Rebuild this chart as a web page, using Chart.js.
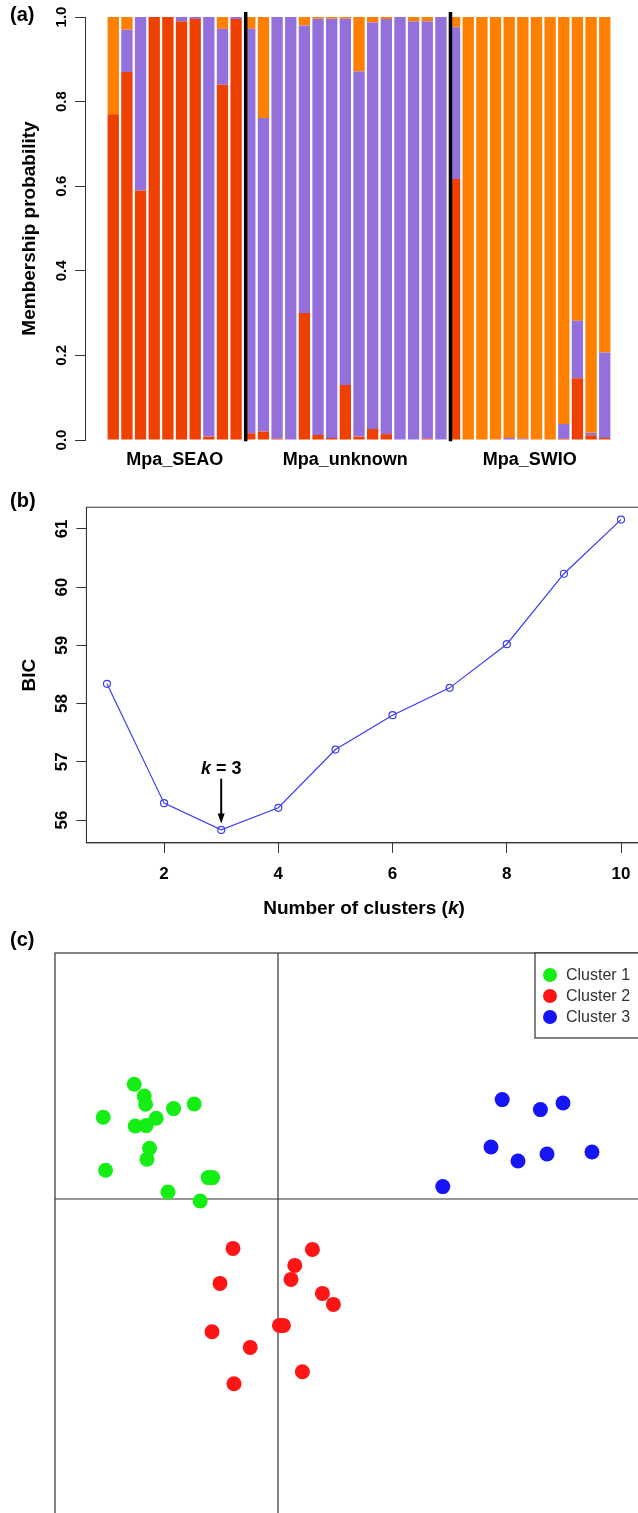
<!DOCTYPE html>
<html><head><meta charset="utf-8">
<script src="https://cdn.jsdelivr.net/npm/chart.js@4.4.0/dist/chart.umd.min.js"></script>
<style>
html,body{margin:0;padding:0;background:#fff;overflow:hidden;width:638px;height:1513px;position:relative;}
canvas{position:absolute;left:0;}
</style></head><body>
<canvas id="ca" width="638" height="490" style="top:0px"></canvas>
<canvas id="cb" width="680" height="450" style="top:480px"></canvas>
<canvas id="cc" width="680" height="610" style="top:930px"></canvas>
<script>
// ---------- Panel (a) data: membership probabilities ----------
const groupNames = ['Mpa_SEAO', 'Mpa_unknown', 'Mpa_SWIO'];
const groupSizes = [10, 15, 12];
const memberRed = [
  0.77, 0.87, 0.59, 1.00, 1.00, 0.99, 0.995, 0.008, 0.84, 0.995,
  0.016, 0.02, 0.003, 0.0, 0.30, 0.012, 0.005, 0.13, 0.008, 0.026, 0.014, 0.0, 0.0, 0.003, 0.0,
  0.617, 0, 0, 0, 0, 0, 0, 0, 0.003, 0.146, 0.011, 0.005
];
const memberPurple = [
  0, 0.10, 0.41, 0, 0, 0.01, 0.005, 0.992, 0.132, 0.005,
  0.956, 0.741, 0.997, 1.0, 0.68, 0.984, 0.991, 0.866, 0.863, 0.961, 0.981, 1.0, 0.99, 0.987, 1.0,
  0.359, 0, 0, 0, 0.005, 0.003, 0, 0, 0.035, 0.136, 0.006, 0.202
];
const memberOrange = [
  0.23, 0.03, 0, 0, 0, 0, 0, 0, 0.028, 0,
  0.028, 0.239, 0, 0, 0.02, 0.004, 0.004, 0.004, 0.129, 0.013, 0.005, 0, 0.01, 0.01, 0,
  0.024, 1, 1, 1, 0.995, 0.997, 1, 1, 0.962, 0.718, 0.983, 0.793
];
const yTicksA = [0, 0.2, 0.4, 0.6, 0.8, 1.0];
const yTickLabelsA = ['0.0', '0.2', '0.4', '0.6', '0.8', '1.0'];

// ---------- Panel (b) data: BIC ----------
const kValues = [1, 2, 3, 4, 5, 6, 7, 8, 9, 10];
const bicValues = [58.34, 56.29, 55.83, 56.21, 57.21, 57.80, 58.27, 59.02, 60.23, 61.16];
const xTicksB = [2, 4, 6, 8, 10];
const yTicksB = [56, 57, 58, 59, 60, 61];
const optimalK = 3;

// ---------- Panel (c) data: DAPC scatter ----------
const clusterNames = ['Cluster 1', 'Cluster 2', 'Cluster 3'];
const cluster1X = [-7.19, -6.69, -6.62, -8.74, -5.22, -4.19, -6.09, -7.14, -6.59, -6.42, -6.55, -8.62, -3.49, -3.27, -5.50, -3.89];
const cluster1Y = [5.74, 5.15, 4.74, 4.09, 4.52, 4.75, 4.04, 3.65, 3.67, 2.54, 1.99, 1.44, 1.07, 1.07, 0.35, -0.10];
const cluster2X = [-2.25, 1.72, 0.84, 0.65, -2.90, 2.22, 2.77, 0.07, 0.27, -3.30, -1.39, 1.22, -2.20];
const cluster2Y = [-2.47, -2.52, -3.32, -4.02, -4.22, -4.72, -5.27, -6.32, -6.32, -6.64, -7.42, -8.64, -9.24];
const cluster3X = [11.21, 13.12, 14.25, 10.65, 12.0, 13.45, 15.7, 8.24];
const cluster3Y = [4.97, 4.47, 4.80, 2.60, 1.90, 2.25, 2.35, 0.62];

// ---------- styles ----------
const F = '"Liberation Sans", Arial, sans-serif';
const fb = s => `bold ${s}px ${F}`;
const fbi = s => `italic bold ${s}px ${F}`;
const axisCol = '#333';

function rotText(ctx, txt, x, y) {
  ctx.save(); ctx.translate(x, y); ctx.rotate(-Math.PI / 2);
  ctx.textAlign = 'center'; ctx.textBaseline = 'middle';
  ctx.fillText(txt, 0, 0); ctx.restore();
}
function mixedText(ctx, parts, cx, cy, size) {
  ctx.textBaseline = 'middle'; ctx.textAlign = 'left';
  let w = 0;
  parts.forEach(p => { ctx.font = p.it ? fbi(size) : fb(size); w += ctx.measureText(p.t).width; });
  let x = cx - w / 2;
  parts.forEach(p => { ctx.font = p.it ? fbi(size) : fb(size); ctx.fillText(p.t, x, cy); x += ctx.measureText(p.t).width; });
}

// ---------- Panel (a) ----------
const nBars = groupSizes.reduce((a, b) => a + b, 0);
const toXY = arr => arr.map((v, i) => ({ x: i, y: v }));
const groupStarts = groupSizes.map((s, i) => groupSizes.slice(0, i).reduce((a, b) => a + b, 0));

const pluginA = {
  id: 'pa',
  afterDraw(chart) {
    const { ctx, scales: { x, y } } = chart;
    ctx.save();
    ctx.strokeStyle = '#000'; ctx.lineWidth = 3.5;
    groupStarts.slice(1).forEach(s => {
      const px = x.getPixelForValue(s - 0.3);
      ctx.beginPath(); ctx.moveTo(px, y.getPixelForValue(1.012)); ctx.lineTo(px, y.getPixelForValue(-0.003)); ctx.stroke();
    });
    ctx.fillStyle = '#000';
    ctx.font = fb(15);
    y.ticks.forEach((t, i) => rotText(ctx, yTickLabelsA[i], 62, y.getPixelForValue(t.value)));
    ctx.font = fb(19);
    rotText(ctx, 'Membership probability', 30, (chart.chartArea.top + chart.chartArea.bottom) / 2);
    ctx.font = fb(18); ctx.textAlign = 'center'; ctx.textBaseline = 'middle';
    groupNames.forEach((g, i) => {
      const c = groupStarts[i] + (groupSizes[i] - 1) / 2;
      ctx.fillText(g, x.getPixelForValue(c), 460);
    });
    ctx.font = fb(20); ctx.textAlign = 'left';
    ctx.fillText('(a)', 10, 15);
    ctx.restore();
  }
};

new Chart(document.getElementById('ca'), {
  type: 'bar',
  data: {
    datasets: [
      { data: toXY(memberRed), backgroundColor: '#EE4000', borderWidth: 0 },
      { data: toXY(memberPurple), backgroundColor: '#9370DB', borderWidth: 0 },
      { data: toXY(memberOrange), backgroundColor: '#FF7F00', borderWidth: 0 }
    ]
  },
  options: {
    responsive: false, animation: false, devicePixelRatio: 1,
    layout: { padding: { left: 0, top: 17, right: 5, bottom: 50 } },
    datasets: { bar: { barPercentage: 0.83, categoryPercentage: 1 } },
    plugins: { legend: { display: false }, tooltip: { enabled: false } },
    scales: {
      x: { type: 'linear', stacked: true, offset: false, min: -2.07, max: nBars + 1.07, display: false },
      y: {
        stacked: true, min: 0, max: 1,
        afterFit: s => { s.width = 85; },
        afterBuildTicks: s => { s.ticks = yTicksA.map(v => ({ value: v })); },
        ticks: { display: false },
        grid: { drawOnChartArea: false, tickLength: 10, color: axisCol },
        border: { color: axisCol }
      }
    }
  },
  plugins: [pluginA]
});

// ---------- Panel (b) ----------
const pluginB = {
  id: 'pb',
  afterDraw(chart) {
    const { ctx, chartArea: a, scales: { x, y } } = chart;
    ctx.save();
    ctx.strokeStyle = axisCol; ctx.lineWidth = 1;
    ctx.strokeRect(a.left, a.top, a.right - a.left, a.bottom - a.top);
    ctx.fillStyle = '#000';
    ctx.font = fb(17);
    y.ticks.forEach(t => rotText(ctx, String(t.value), 62, y.getPixelForValue(t.value)));
    ctx.textAlign = 'center'; ctx.textBaseline = 'middle';
    x.ticks.forEach(t => ctx.fillText(String(t.value), x.getPixelForValue(t.value), a.bottom + 31));
    ctx.font = fb(19);
    rotText(ctx, 'BIC', 30, (a.top + a.bottom) / 2);
    mixedText(ctx, [{ t: 'Number of clusters (' }, { t: 'k', it: true }, { t: ')' }], (a.left + a.right) / 2, a.bottom + 66, 19);
    // k = 3 annotation
    const kx = x.getPixelForValue(optimalK);
    mixedText(ctx, [{ t: 'k', it: true }, { t: ' = 3' }], kx, y.getPixelForValue(56.88), 18);
    const y0 = y.getPixelForValue(56.71), y1 = y.getPixelForValue(55.94);
    ctx.strokeStyle = '#000'; ctx.lineWidth = 2;
    ctx.beginPath(); ctx.moveTo(kx, y0); ctx.lineTo(kx, y1 - 6); ctx.stroke();
    ctx.beginPath(); ctx.moveTo(kx, y1); ctx.lineTo(kx - 3.5, y1 - 10); ctx.lineTo(kx + 3.5, y1 - 10); ctx.closePath(); ctx.fill();
    ctx.font = fb(20); ctx.textAlign = 'left'; ctx.textBaseline = 'middle';
    ctx.fillText('(b)', 10, 21);
    ctx.restore();
  }
};

new Chart(document.getElementById('cb'), {
  type: 'line',
  data: {
    datasets: [{
      data: kValues.map((k, i) => ({ x: k, y: bicValues[i] })),
      borderColor: '#3c3cf5', borderWidth: 1.2, tension: 0, fill: false,
      pointRadius: 3.5, pointBorderWidth: 1.2, pointBorderColor: '#3c3cf5', pointBackgroundColor: 'rgba(0,0,0,0)'
    }]
  },
  options: {
    responsive: false, animation: false, devicePixelRatio: 1,
    layout: { padding: { left: 0, top: 27.2, right: 38.4, bottom: 0 } },
    plugins: { legend: { display: false }, tooltip: { enabled: false } },
    scales: {
      x: {
        type: 'linear', min: 0.64, max: 10.36, offset: false,
        afterFit: s => { s.height = 87.1; },
        afterBuildTicks: s => { s.ticks = xTicksB.map(v => ({ value: v })); },
        ticks: { display: false },
        grid: { drawOnChartArea: false, tickLength: 10, color: axisCol },
        border: { color: axisCol }
      },
      y: {
        type: 'linear', min: 55.607, max: 61.373,
        afterFit: s => { s.width = 86.4; },
        afterBuildTicks: s => { s.ticks = yTicksB.map(v => ({ value: v })); },
        ticks: { display: false },
        grid: { drawOnChartArea: false, tickLength: 10, color: axisCol },
        border: { color: axisCol }
      }
    }
  },
  plugins: [pluginB]
});

// ---------- Panel (c) ----------
const pluginC = {
  id: 'pc',
  beforeDatasetsDraw(chart) {
    const { ctx, chartArea: a, scales: { x, y } } = chart;
    ctx.save();
    ctx.strokeStyle = axisCol; ctx.lineWidth = 1.2;
    ctx.strokeRect(a.left, a.top, a.right - a.left, a.bottom - a.top);
    const x0 = x.getPixelForValue(0), y0 = y.getPixelForValue(0);
    ctx.beginPath(); ctx.moveTo(x0, a.top); ctx.lineTo(x0, a.bottom); ctx.stroke();
    ctx.beginPath(); ctx.moveTo(a.left, y0); ctx.lineTo(a.right, y0); ctx.stroke();
    ctx.restore();
  },
  afterDraw(chart) {
    const { ctx, chartArea: a } = chart;
    ctx.save();
    // legend (top-right)
    const lx = 535, lh = 85;
    ctx.fillStyle = '#fff';
    ctx.fillRect(lx, a.top, a.right - lx, lh);
    ctx.strokeStyle = axisCol; ctx.lineWidth = 1.2;
    ctx.strokeRect(lx, a.top, a.right - lx, lh);
    ctx.font = `16px ${F}`; ctx.textAlign = 'left'; ctx.textBaseline = 'middle';
    chart.data.datasets.forEach((ds, i) => {
      const cy = a.top + 22 + i * 21;
      ctx.fillStyle = ds.backgroundColor;
      ctx.beginPath(); ctx.arc(lx + 15, cy, 7, 0, Math.PI * 2); ctx.fill();
      ctx.fillStyle = '#333';
      ctx.fillText(ds.label, lx + 31, cy + 1);
    });
    ctx.fillStyle = '#000'; ctx.font = fb(20);
    ctx.fillText('(c)', 10, 10);
    ctx.restore();
  }
};

const pts = (xs, ys) => xs.map((v, i) => ({ x: v, y: ys[i] }));
new Chart(document.getElementById('cc'), {
  type: 'scatter',
  data: {
    datasets: [
      { label: clusterNames[0], data: pts(cluster1X, cluster1Y), backgroundColor: '#14EE14' },
      { label: clusterNames[1], data: pts(cluster2X, cluster2Y), backgroundColor: '#FF1515' },
      { label: clusterNames[2], data: pts(cluster3X, cluster3Y), backgroundColor: '#1515F5' }
    ]
  },
  options: {
    responsive: false, animation: false, devicePixelRatio: 1,
    layout: { padding: { left: 55, top: 23, right: 20, bottom: 10 } },
    elements: { point: { radius: 7.5, borderWidth: 0, hoverRadius: 7.5 } },
    plugins: { legend: { display: false }, tooltip: { enabled: false } },
    scales: {
      x: { type: 'linear', min: -11.15, max: 19.1, display: false },
      y: { type: 'linear', min: -16.55, max: 12.3, display: false }
    }
  },
  plugins: [pluginC]
});
</script>
</body></html>
